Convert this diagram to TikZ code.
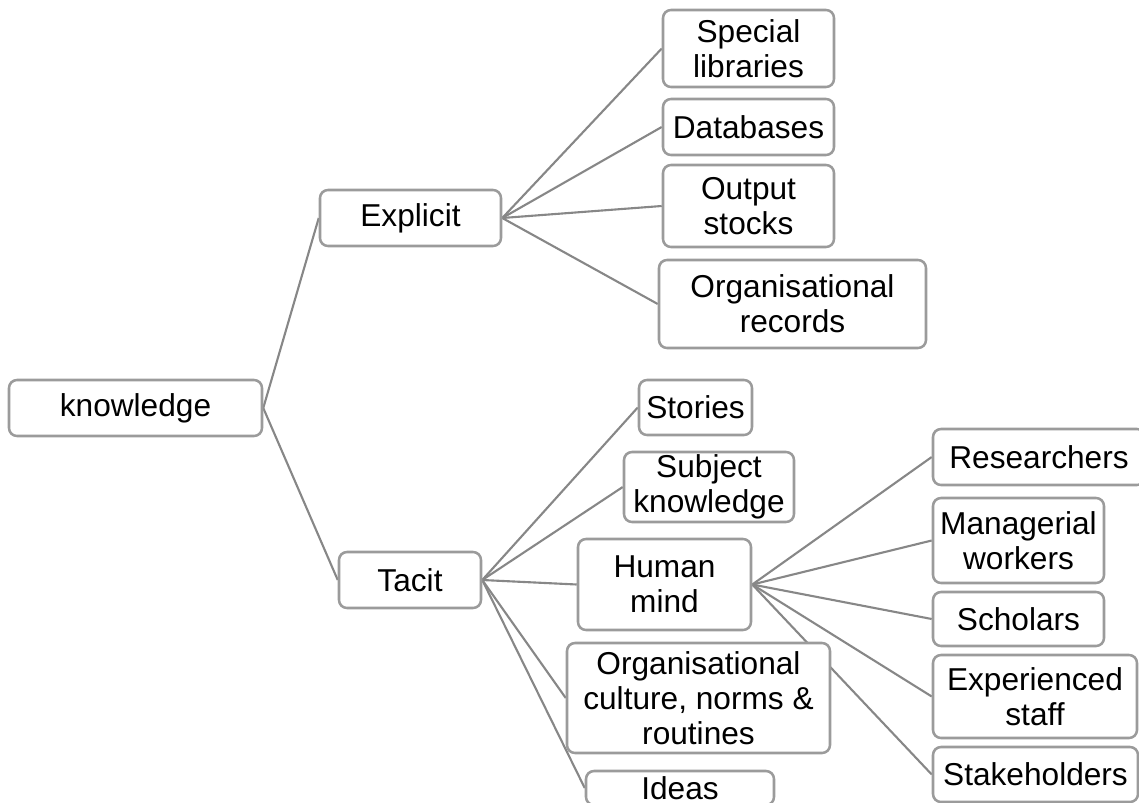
\documentclass[tikz,border=0pt]{standalone}
\usepackage{fontspec}
\setmainfont{Liberation Sans}
\usetikzlibrary{backgrounds}

\definecolor{boxline}{RGB}{155,155,155}
\definecolor{linkline}{RGB}{135,135,135}

\tikzset{
  item/.style={draw=boxline, line width=1.8pt, rounded corners=0.2cm, fill=white,
    align=center, inner sep=0pt, font=\fontsize{22.5}{25}\selectfont},
  sz/.style 2 args={minimum width=#1*0.025cm, minimum height=#2*0.025cm},
  link/.style={draw=linkline, line width=1.5pt}
}

\begin{document}
\begin{tikzpicture}[x=0.025cm, y=-0.025cm]

\path[use as bounding box, clip] (0,0) rectangle (1139,803);

% Root and first level
\node[item, sz={253}{56}] (know) at (135.5,408) {knowledge};
\node[item, sz={181}{56}] (expl) at (410.5,218) {Explicit};
\node[item, sz={142}{56}] (tacit) at (410,580) {Tacit};

% Explicit branch
\node[item, sz={171}{77}] (spec) at (748.5,48.5) {Special\\libraries};
\node[item, sz={171}{56}] (dbase) at (748.5,127) {Databases};
\node[item, sz={171}{82}] (outp) at (748.5,206) {Output\\stocks};
\node[item, sz={267}{88}] (orgrec) at (792.5,304) {Organisational\\records};

% Tacit branch
\node[item, sz={113}{55}] (stor) at (695.5,407.5) {Stories};
\node[item, sz={170}{70}] (subj) at (709,487) {Subject\\knowledge};
\node[item, sz={173}{91}] (human) at (664.5,584.5) {Human\\mind};
\node[item, sz={263}{110}] (cult) at (698.5,698) {Organisational\\culture, norms \&\\routines};
\node[item, sz={188}{34}] (ideas) at (680,788) {Ideas};

% Human mind branch
\node[item, sz={212}{56}] (resr) at (1039,457) {Researchers};
\node[item, sz={171}{85}] (mgr) at (1018.5,540.5) {Managerial\\workers};
\node[item, sz={171}{54}] (schol) at (1018.5,619) {Scholars};
\node[item, sz={204}{83}] (exper) at (1035,696.5) {Experienced\\staff};
\node[item, sz={205}{55}] (stake) at (1035.5,774.5) {Stakeholders};

% Connectors
\begin{scope}[on background layer]
\foreach \kid in {expl, tacit}
  \draw[link] (know.east) -- (\kid.west);
\foreach \kid in {spec, dbase, outp, orgrec}
  \draw[link] (expl.east) -- (\kid.west);
\foreach \kid in {stor, subj, human, cult, ideas}
  \draw[link] (tacit.east) -- (\kid.west);
\foreach \kid in {resr, mgr, schol, exper, stake}
  \draw[link] (human.east) -- (\kid.west);
\end{scope}

\end{tikzpicture}
\end{document}
